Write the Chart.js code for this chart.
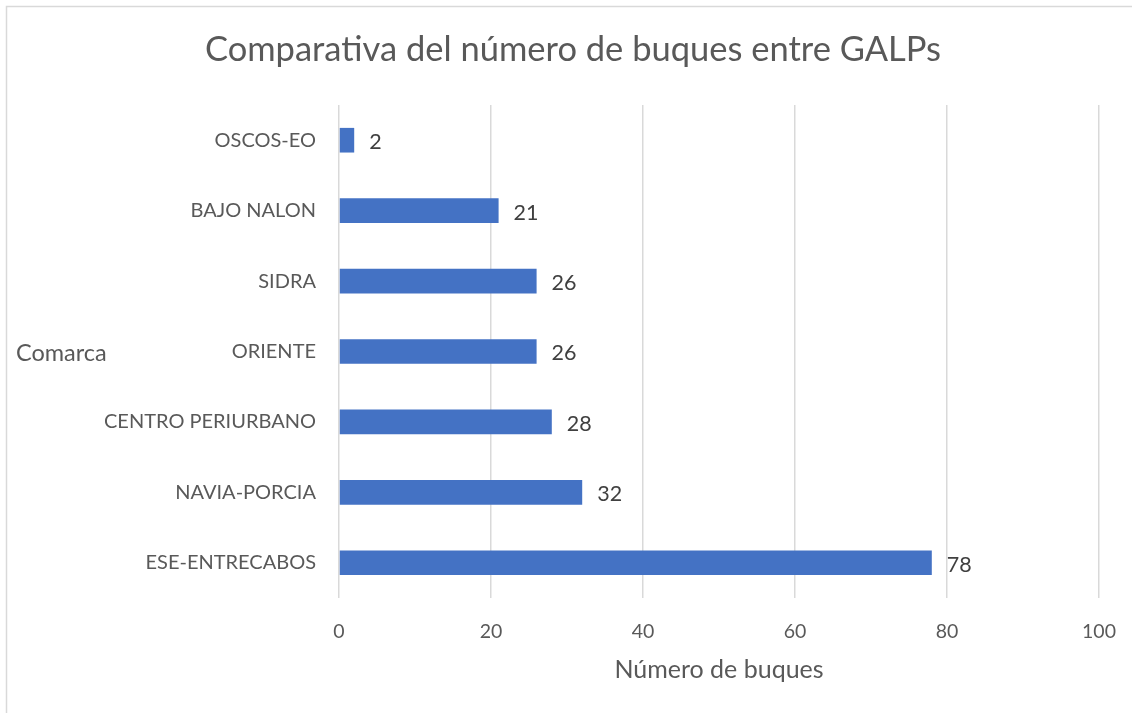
<!DOCTYPE html>
<html><head><meta charset="utf-8">
<script src="https://cdn.jsdelivr.net/npm/chart.js@4.4.0/dist/chart.umd.min.js"></script>
<style>html,body{margin:0;padding:0;background:#fff;}#wrap{width:1132px;height:713px;position:relative;}</style>
</head><body><div id="wrap"><canvas id="c" width="1132" height="713"></canvas></div>
<script>
const categories = ["OSCOS-EO","BAJO NALON","SIDRA","ORIENTE","CENTRO PERIURBANO","NAVIA-PORCIA","ESE-ENTRECABOS"];
const values = [2,21,26,26,28,32,78];
const xTicks = [0,20,40,60,80,100];
const titleText = "Comparativa del número de buques entre GALPs";
const xTitle = "Número de buques";
const yTitle = "Comarca";
const FONT = "Lato";

const extras = {
  id:'extras',
  beforeDraw(chart){
    const ctx=chart.ctx;
    ctx.save();
    ctx.fillStyle='#fff';ctx.fillRect(0,0,chart.width,chart.height);
    ctx.strokeStyle='#d9d9d9';ctx.lineWidth=1.5;
    ctx.beginPath();ctx.moveTo(6.5,chart.height);ctx.lineTo(6.5,6.5);ctx.lineTo(chart.width,6.5);ctx.stroke();
    ctx.restore();
  },
  afterDatasetsDraw(chart){
    const ctx=chart.ctx;
    const meta=chart.getDatasetMeta(0);
    ctx.save();
    ctx.font='21.5px '+FONT;ctx.fillStyle='#404040';ctx.textAlign='left';ctx.textBaseline='middle';
    meta.data.forEach((bar,i)=>{ctx.fillText(String(values[i]),bar.x+15,bar.y+2);});
    ctx.font='23.5px '+FONT;ctx.fillStyle='#595959';
    const ca=chart.chartArea;
    ctx.fillText(yTitle,16,(ca.top+ca.bottom)/2+2);
    ctx.restore();
  }
};

new Chart(document.getElementById('c'),{
  type:'bar',
  data:{labels:categories,datasets:[{data:values,backgroundColor:'#4472C4',barPercentage:0.35,categoryPercentage:1}]},
  options:{
    indexAxis:'y',responsive:false,animation:false,
    layout:{padding:{left:47,right:33,top:0,bottom:0}},
    plugins:{legend:{display:false},tooltip:{enabled:false},
      title:{display:true,text:titleText,color:'#595959',font:{family:FONT,size:34.5,weight:'normal'},padding:{top:29,bottom:34.6}}},
    scales:{
      x:{min:0,max:100,position:'bottom',
        afterBuildTicks(s){s.ticks=xTicks.map(v=>({value:v}));},
        grid:{color:'#d9d9d9',lineWidth:1.5,drawTicks:false,tickLength:0},border:{display:false},
        ticks:{color:'#595959',font:{family:FONT,size:19.5},padding:22},
        title:{display:true,text:xTitle,color:'#595959',font:{family:FONT,size:25},padding:{top:4,bottom:28}},
        afterFit(s){s.height=713-598;s.paddingRight=0;s.paddingLeft=0;}},
      y:{grid:{display:false},border:{display:false},
        ticks:{color:'#595959',font:{family:FONT,size:20},padding:15},
        afterFit(s){s.width=339-47;s.paddingTop=0;s.paddingBottom=0;}}
    }
  },
  plugins:[extras]
});
</script></body></html>
